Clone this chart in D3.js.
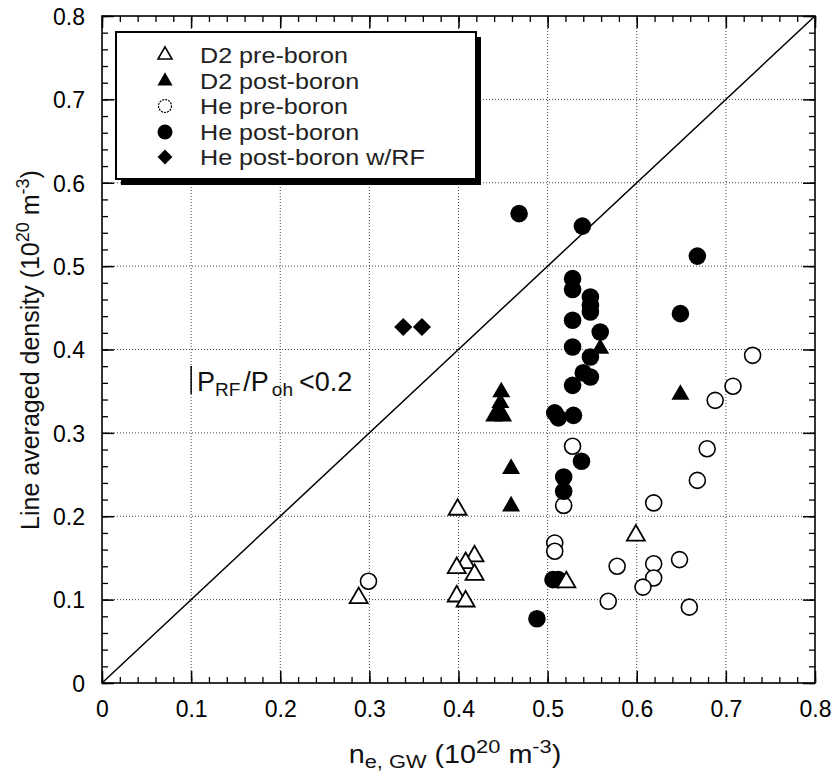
<!DOCTYPE html>
<html><head><meta charset="utf-8">
<script src="https://cdn.jsdelivr.net/npm/d3@7/dist/d3.min.js"></script>
<style>body{margin:0;background:#fff}svg{font-family:"Liberation Sans",Arial,Helvetica,sans-serif}</style>
</head><body>
<svg id="c" width="831" height="771"></svg>
<script>
const xTicks=[0,0.1,0.2,0.3,0.4,0.5,0.6,0.7,0.8];
const yTicks=[0,0.1,0.2,0.3,0.4,0.5,0.6,0.7,0.8];
const tickLabels=["0","0.1","0.2","0.3","0.4","0.5","0.6","0.7","0.8"];
const legendLabels=["D2 pre-boron","D2 post-boron","He pre-boron","He post-boron","He post-boron w/RF"];
const d2Pre=[[0.288,0.102],[0.399,0.208],[0.418,0.152],[0.408,0.144],[0.398,0.138],[0.418,0.130],[0.398,0.104],[0.408,0.098],[0.521,0.121],[0.599,0.177]];
const d2Post=[[0.448,0.349],[0.447,0.336],[0.445,0.326],[0.440,0.320],[0.450,0.320],[0.459,0.257],[0.459,0.212],[0.559,0.401],[0.649,0.346]];
const hePre=[[0.299,0.122],[0.528,0.284],[0.518,0.213],[0.508,0.168],[0.508,0.158],[0.619,0.216],[0.578,0.140],[0.619,0.143],[0.648,0.148],[0.619,0.126],[0.607,0.115],[0.568,0.098],[0.659,0.091],[0.668,0.243],[0.679,0.281],[0.688,0.339],[0.708,0.356],[0.730,0.393]];
const hePost=[[0.468,0.563],[0.539,0.548],[0.668,0.512],[0.528,0.485],[0.528,0.472],[0.548,0.463],[0.548,0.453],[0.548,0.445],[0.528,0.435],[0.559,0.421],[0.528,0.403],[0.548,0.391],[0.540,0.372],[0.548,0.367],[0.528,0.357],[0.649,0.443],[0.508,0.324],[0.512,0.318],[0.529,0.321],[0.538,0.266],[0.518,0.247],[0.518,0.230],[0.506,0.124],[0.512,0.124],[0.488,0.077]];
const heRF=[[0.338,0.427],[0.359,0.427]];
const diag=[[0,0],[0.8,0.8]];

const svg=d3.select("#c");
const L=102,R=815,T=16,B=683;
const x=d3.scaleLinear().domain([0,0.8]).range([L,R]);
const y=d3.scaleLinear().domain([0,0.8]).range([B,T]);

// grid
const g=svg.append("g");
g.selectAll(".gx").data(xTicks.slice(1,-1)).enter().append("line")
 .attr("x1",d=>x(d)).attr("x2",d=>x(d)).attr("y1",T).attr("y2",B)
 .attr("stroke","#444").attr("stroke-width",1).attr("stroke-dasharray","1,2");
g.selectAll(".gy").data(yTicks.slice(1,-1)).enter().append("line")
 .attr("y1",d=>y(d)).attr("y2",d=>y(d)).attr("x1",L).attr("x2",R)
 .attr("stroke","#444").attr("stroke-width",1).attr("stroke-dasharray","1,2");

// axes with inward ticks
const minor=d3.range(0,0.8001,0.02);
function ax(axisFn,scale,transform,len,vals,w){
  return svg.append("g").attr("transform",transform)
   .call(axisFn(scale).tickValues(vals).tickSize(len).tickFormat(""))
   .call(s=>s.select(".domain").remove())
   .call(s=>s.selectAll("line").attr("stroke","#000").attr("stroke-width",w));
}
[[d3.axisTop,x,`translate(0,${B})`],[d3.axisBottom,x,`translate(0,${T})`],
 [d3.axisRight,y,`translate(${L},0)`],[d3.axisLeft,y,`translate(${R},0)`]].forEach(a=>{
  ax(a[0],a[1],a[2],6,minor,1.3);
  ax(a[0],a[1],a[2],12,xTicks,1.5);
});

// tick labels
svg.append("g").attr("transform",`translate(0,${B+11})`)
 .call(d3.axisBottom(x).tickValues(xTicks).tickSize(0).tickFormat((d,i)=>tickLabels[i]))
 .call(s=>s.select(".domain").remove())
 .call(s=>s.selectAll("text").attr("font-size",23).attr("font-family","Liberation Sans, Arial, sans-serif").attr("fill","#000").attr("dy","0.85em"));
svg.append("g").attr("transform",`translate(${L-14},0)`)
 .call(d3.axisLeft(y).tickValues(yTicks).tickSize(0).tickFormat((d,i)=>tickLabels[i]))
 .call(s=>s.select(".domain").remove())
 .call(s=>s.selectAll("text").attr("font-size",23).attr("font-family","Liberation Sans, Arial, sans-serif").attr("fill","#000").attr("dy","0.36em"));

// frame
svg.append("rect").attr("x",L).attr("y",T).attr("width",R-L).attr("height",B-T)
 .attr("fill","none").attr("stroke","#000").attr("stroke-width",1.6);

// diagonal
svg.append("path").attr("d",d3.line().x(d=>x(d[0])).y(d=>y(d[1]))(diag))
 .attr("stroke","#000").attr("stroke-width",1.5).attr("fill","none");

// markers
const tri=d3.symbol().type(d3.symbolTriangle).size(140)();
const sq=d3.symbol().type(d3.symbolSquare).size(165)();
svg.append("g").selectAll("circle").data(hePre).enter().append("circle")
 .attr("cx",d=>x(d[0])).attr("cy",d=>y(d[1])).attr("r",8)
 .attr("fill","#fff").attr("stroke","#000").attr("stroke-width",1.6);
svg.append("g").selectAll("circle").data(hePost).enter().append("circle")
 .attr("cx",d=>x(d[0])).attr("cy",d=>y(d[1])).attr("r",8.8).attr("fill","#000");
svg.append("g").selectAll("path").data(d2Pre).enter().append("path")
 .attr("d",tri).attr("transform",d=>`translate(${x(d[0])},${y(d[1])})`)
 .attr("fill","#fff").attr("stroke","#000").attr("stroke-width",1.8);
svg.append("g").selectAll("path").data(d2Post).enter().append("path")
 .attr("d",tri).attr("transform",d=>`translate(${x(d[0])},${y(d[1])})`).attr("fill","#000");
svg.append("g").selectAll("path").data(heRF).enter().append("path")
 .attr("d",sq).attr("transform",d=>`translate(${x(d[0])},${y(d[1])}) rotate(45)`).attr("fill","#000");

// legend
const lg=svg.append("g");
lg.append("rect").attr("x",121).attr("y",37).attr("width",360).attr("height",148).attr("fill","#000");
lg.append("rect").attr("x",116).attr("y",32).attr("width",360).attr("height",147).attr("fill","#fff").attr("stroke","#000").attr("stroke-width",2);
const rows=[55,81,106,132,157];
const mk=[
 s=>s.append("path").attr("d",d3.symbol().type(d3.symbolTriangle).size(85)()).attr("fill","#fff").attr("stroke","#000").attr("stroke-width",1.6),
 s=>s.append("path").attr("d",d3.symbol().type(d3.symbolTriangle).size(100)()).attr("fill","#000"),
 s=>s.append("circle").attr("r",6.5).attr("fill","#fff").attr("stroke","#000").attr("stroke-width",1.2).attr("stroke-dasharray","2,1"),
 s=>s.append("circle").attr("r",7.5).attr("fill","#000"),
 s=>s.append("path").attr("d",d3.symbol().type(d3.symbolSquare).size(110)()).attr("transform","rotate(45)").attr("fill","#000")
];
legendLabels.forEach((t,i)=>{
  const r=lg.append("g").attr("transform",`translate(165,${rows[i]})`);
  mk[i](r);
  lg.append("g").attr("transform",`translate(200,${rows[i]}) scale(1.17,1)`)
    .append("text").attr("x",0).attr("y",0).attr("dy","0.36em").attr("font-size",21.5).attr("fill","#222").text(t);
});

// annotation
svg.append("line").attr("x1",x(0.1)).attr("x2",x(0.1)).attr("y1",366).attr("y2",394).attr("stroke","#000").attr("stroke-width",1.5);
const an=svg.append("text").attr("x",197).attr("y",391).attr("font-size",27).attr("fill","#111");
an.append("tspan").text("P");
an.append("tspan").attr("font-size",19).attr("dy",5).text("RF");
an.append("tspan").attr("dy",-5).attr("dx",3).text("/P");
an.append("tspan").attr("font-size",19).attr("dy",5).attr("dx",3).text("oh");
an.append("tspan").attr("dy",-5).attr("dx",6).text("<0.2");

// axis titles
const xt=svg.append("text").attr("transform","translate(455,763) scale(1.15,1)").attr("text-anchor","middle").attr("font-size",25).attr("fill","#111");
xt.append("tspan").text("n");
xt.append("tspan").attr("font-size",19).attr("dy",5).text("e, GW");
xt.append("tspan").attr("dy",-5).text(" (10");
xt.append("tspan").attr("font-size",19).attr("dy",-10).text("20");
xt.append("tspan").attr("dy",10).text(" m");
xt.append("tspan").attr("font-size",19).attr("dy",-10).text("-3");
xt.append("tspan").attr("dy",10).text(")");

const yt=svg.append("text").attr("transform","translate(39,350) rotate(-90)").attr("text-anchor","middle").attr("font-size",25).attr("fill","#111");
yt.append("tspan").text("Line averaged density (10");
yt.append("tspan").attr("font-size",18).attr("dy",-10).text("20");
yt.append("tspan").attr("dy",10).text(" m");
yt.append("tspan").attr("font-size",18).attr("dy",-10).text("-3");
yt.append("tspan").attr("dy",10).text(")");
</script>
</body></html>
